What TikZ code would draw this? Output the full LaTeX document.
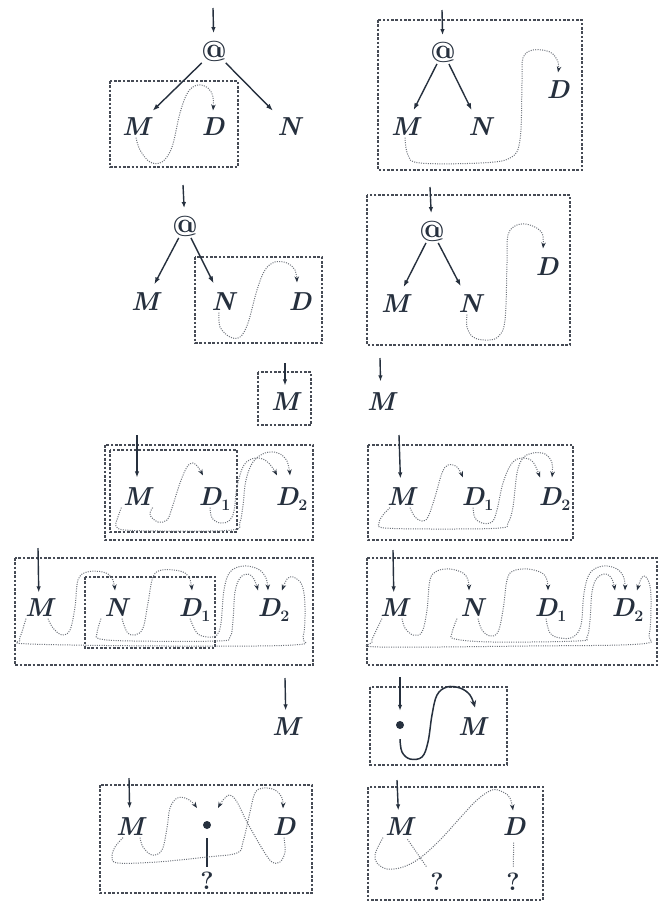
\documentclass[tikz,border=0pt]{standalone}
\usetikzlibrary{arrows.meta}
\definecolor{ink}{RGB}{38,48,62}
\definecolor{boxc}{RGB}{70,75,85}
\definecolor{curvec}{RGB}{110,115,123}
\newcommand\mysub[1]{\smash{\rlap{\raisebox{-5pt}{\fontsize{16}{16}\selectfont\upshape\bfseries #1}}}}
\begin{document}
\begin{tikzpicture}[x=1pt,y=-1pt,
  lbl/.style={inner sep=1.5pt, text=ink, font=\fontsize{26}{30}\selectfont\bfseries\itshape},
  atnode/.style={inner sep=1.5pt, text=ink, font=\fontsize{29}{32}\selectfont\bfseries},
  qnode/.style={inner sep=1.5pt, text=ink, font=\fontsize{25}{28}\selectfont\bfseries},
  entry/.style={draw=ink, line width=1.4pt, -{Latex[length=6pt,width=4.5pt]}},
  treeedge/.style={draw=ink, line width=1.4pt, -{Latex[length=7pt,width=5pt]}},
  dbox/.style={draw=boxc, line width=1.6pt, dash pattern=on 2.6pt off 1.7pt},
  ptr/.style={draw=curvec, line width=1pt, dash pattern=on 1pt off 1.3pt, -{Stealth[length=6pt,width=4.5pt,color=ink]}},
  ptrline/.style={draw=curvec, line width=1pt, dash pattern=on 1pt off 1.3pt},
  solidptr/.style={draw=ink, line width=1.5pt, -{Stealth[length=7pt,width=6pt]}},
  bullet/.style={circle, fill=ink, inner sep=0pt, minimum size=8pt}]
\fill[white] (0,0) rectangle (659,903);
\useasboundingbox (0,0) rectangle (659,903);

% ---------- Panel 1
\node[atnode] (p1at) at (214,51) {@};
\node[lbl] (p1M) at (136,127) {M};
\node[lbl] (p1D) at (213,127) {D};
\node[lbl] (p1N) at (289,127) {N};
\coordinate (p1in) at (213,8);
\draw[dbox] (110,81) rectangle (238,167);
\draw[entry, shorten >=6pt] (p1in) -- (p1at);
\draw[treeedge, shorten >=8pt] (p1at) -- (p1M);
\draw[treeedge, shorten >=8pt] (p1at) -- (p1N);
\draw[ptr] plot[smooth,tension=0.6] coordinates {(p1M.south) (140,150) (150,162) (162,162) (172,147) (180,113) (188,92) (198,85) (208,88) (213,97) ([yshift=6pt]p1D.north)};

% ---------- Panel 2
\node[atnode] (p2at) at (443,52) {@};
\node[lbl] (p2M) at (405,127) {M};
\node[lbl] (p2N) at (480,127) {N};
\node[lbl] (p2D) at (558,90) {D};
\coordinate (p2in) at (442,10);
\draw[dbox] (378,20) rectangle (582,170);
\draw[entry, shorten >=5pt] (p2in) -- (p2at);
\draw[treeedge, shorten >=7pt] (p2at) -- (p2M);
\draw[treeedge, shorten >=7pt] (p2at) -- (p2N);
\draw[ptr] plot[smooth,tension=0.6] coordinates {(p2M.south) (408,155) (420,163) (480,163) (510,158) (520,140) (522,83) (523,58) (533,50) (550,52) (558,62) ([yshift=7pt]p2D.north)};

% ---------- Panel 3
\node[atnode] (p3at) at (185,226) {@};
\node[lbl] (p3M) at (145,302) {M};
\node[lbl] (p3N) at (223,302) {N};
\node[lbl] (p3D) at (300,302) {D};
\coordinate (p3in) at (183,185);
\draw[dbox] (195,257) rectangle (322,343);
\draw[entry, shorten >=6pt] (p3in) -- (p3at);
\draw[treeedge, shorten >=8pt] (p3at) -- (p3M);
\draw[treeedge, shorten >=9pt] (p3at) -- (p3N);
\draw[ptr] plot[smooth,tension=0.6] coordinates {([xshift=-4pt]p3N.south) (220,327) (230,337) (240,337) (248,323) (257,290) (265,270) (275,262) (287,263) (295,270) ([xshift=-3pt,yshift=9pt]p3D.north)};

% ---------- Panel 4
\node[atnode] (p4at) at (432,231) {@};
\node[lbl] (p4M) at (395,304) {M};
\node[lbl] (p4N) at (470,304) {N};
\node[lbl] (p4D) at (547,267) {D};
\coordinate (p4in) at (430,187);
\draw[dbox] (367,195) rectangle (570,345);
\draw[entry, shorten >=6pt] (p4in) -- (p4at);
\draw[treeedge, shorten >=7pt] (p4at) -- (p4M);
\draw[treeedge, shorten >=8pt] (p4at) -- (p4N);
\draw[ptr] plot[smooth,tension=0.6] coordinates {([xshift=-3pt]p4N.south) (467,327) (473,337) (485,340) (498,337) (505,320) (507,263) (508,235) (517,225) (530,225) (542,233) ([xshift=-4pt,yshift=8pt]p4D.north)};

% ---------- Panel 5
\node[lbl] (p5Ma) at (285,402) {M};
\coordinate (p5ina) at (285,363);
\draw[dbox] (258,372) rectangle (311,425);
\draw[entry, shorten >=6pt] (p5ina) -- (p5Ma);
\node[lbl] (p5Mb) at (381,402) {M};
\coordinate (p5inb) at (380,358);
\draw[entry, shorten >=10pt] (p5inb) -- (p5Mb);

% ---------- Panel 6
\node[lbl] (p6M) at (137,497) {M};
\node[lbl] (p6D1) at (210,497) {D\mysub{1}};
\node[lbl] (p6D2) at (287,497) {D\mysub{2}};
\coordinate (p6in) at (137,435);
\draw[dbox] (105,445) rectangle (313,540);
\draw[dbox] (110,450) rectangle (237,532);
\draw[entry, shorten >=9pt] (p6in) -- (p6M);
\draw[ptr] plot[smooth,tension=0.6] coordinates {(p6M.south east) (150,515) (158,522) (167,520) (172,508) (180,483) (187,467) (193,463) (198,467) ([xshift=-7pt,yshift=11pt]p6D1.north)};
\draw[ptr] plot[smooth,tension=0.6] coordinates {(p6D1.south) (212,518) (220,523) (229,521) (234,511) (237,487) (244,465) (255,458) (265,460) (272,467) ([xshift=-10pt,yshift=11pt]p6D2.north)};
\draw[ptr] plot[smooth,tension=0.6] coordinates {(p6M.south west) (118,517) (116,526) (125,530) (167,531) (232,530) (240,522) (243,505) (246,480) (253,462) (265,453) (278,453) (287,461) ([xshift=3pt,yshift=11pt]p6D2.north)};

% ---------- Panel 7
\node[lbl] (p7M) at (401,497) {M};
\node[lbl] (p7D1) at (473,497) {D\mysub{1}};
\node[lbl] (p7D2) at (550,497) {D\mysub{2}};
\coordinate (p7in) at (399,435);
\draw[dbox] (368,445) rectangle (573,540);
\draw[entry, shorten >=8pt] (p7in) -- (p7M);
\draw[ptr] plot[smooth,tension=0.6] coordinates {([xshift=9pt]p7M.south) (415,517) (422,521) (428,517) (435,497) (442,473) (448,465) (457,467) ([xshift=-10pt,yshift=9pt]p7D1.north)};
\draw[ptr] plot[smooth,tension=0.6] coordinates {(p7D1.south) (475,518) (482,523) (492,522) (497,510) (503,483) (512,463) (523,458) (533,462) ([xshift=-10pt,yshift=9pt]p7D2.north)};
\draw[ptr] plot[smooth,tension=0.6] coordinates {([xshift=-11pt]p7M.south) (383,515) (379,523) (385,528) (443,529) (500,528) (508,523) (513,507) (517,473) (523,458) (533,453) (545,454) (552,463) ([xshift=2pt,yshift=9pt]p7D2.north)};

% ---------- Panel 8
\node[lbl] (p8M) at (39,608) {M};
\node[lbl] (p8N) at (116,608) {N};
\node[lbl] (p8D1) at (190,608) {D\mysub{1}};
\node[lbl] (p8D2) at (269,608) {D\mysub{2}};
\coordinate (p8in) at (38,548);
\draw[dbox] (15,558) rectangle (313,665);
\draw[dbox] (85,577) rectangle (215,648);
\draw[entry, shorten >=5pt] (p8in) -- (p8M);
\draw[ptr] plot[smooth,tension=0.6] coordinates {([xshift=9pt]p8M.south) (53,628) (62,635) (70,630) (75,607) (78,580) (87,572) (103,572) (112,578) ([xshift=-1pt,yshift=7pt]p8N.north)};
\draw[ptr] plot[smooth,tension=0.6] coordinates {([xshift=6pt]p8N.south) (127,632) (135,635) (143,628) (148,603) (153,577) (162,570) (180,571) (189,577) ([xshift=2pt,yshift=7pt]p8D1.north)};
\draw[ptr] plot[smooth,tension=0.6] coordinates {(p8D1.south) (197,633) (207,637) (217,635) (221,623) (224,590) (230,572) (243,566) (258,569) (266,578) ([xshift=-1pt,yshift=7pt]p8D2.north)};
\draw[ptr] plot[smooth,tension=0.6] coordinates {([xshift=-13pt]p8M.south) (22,632) (20,640) (30,644) (167,646) (293,645) (303,637) (305,607) (302,585) (293,577) (287,579) ([xshift=13pt,yshift=7pt]p8D2.north)};
\draw[ptr] plot[smooth,tension=0.6] coordinates {([xshift=-15pt]p8N.south) (97,633) (100,639) (133,641) (217,641) (230,637) (233,620) (235,592) (240,578) (248,574) (254,579) ([xshift=-11pt,yshift=7pt]p8D2.north)};

% ---------- Panel 9
\node[lbl] (p9M) at (394,608) {M};
\node[lbl] (p9N) at (472,608) {N};
\node[lbl] (p9D1) at (546,608) {D\mysub{1}};
\node[lbl] (p9D2) at (623,608) {D\mysub{2}};
\coordinate (p9in) at (393,550);
\draw[dbox] (367,558) rectangle (657,665);
\draw[entry, shorten >=5pt] (p9in) -- (p9M);
\draw[ptr] plot[smooth,tension=0.6] coordinates {([xshift=8pt]p9M.south) (405,628) (413,635) (422,632) (427,610) (430,580) (437,571) (450,569) (463,573) (468,580) ([xshift=-3pt,yshift=7pt]p9N.north)};
\draw[ptr] plot[smooth,tension=0.6] coordinates {([xshift=6pt]p9N.south) (482,630) (490,636) (498,632) (503,610) (507,580) (513,571) (528,569) (542,573) (547,580) ([xshift=2pt,yshift=7pt]p9D1.north)};
\draw[ptr] plot[smooth,tension=0.6] coordinates {(p9D1.south) (550,633) (560,638) (573,637) (581,625) (584,593) (590,573) (603,566) (617,569) (624,578) ([xshift=2pt,yshift=7pt]p9D2.north)};
\draw[ptr] plot[smooth,tension=0.6] coordinates {([xshift=-12pt]p9M.south) (375,633) (372,642) (380,647) (527,646) (640,644) (649,635) (651,607) (650,586) (645,576) (641,579) ([xshift=14pt,yshift=7pt]p9D2.north)};
\draw[ptr] plot[smooth,tension=0.6] coordinates {([xshift=-15pt]p9N.south) (452,633) (455,639) (493,642) (577,641) (587,637) (590,620) (592,592) (597,578) (606,574) (612,579) ([xshift=-8pt,yshift=7pt]p9D2.north)};

% ---------- Panel 10
\node[lbl] (p10M) at (286,727) {M};
\coordinate (p10in) at (285,678);
\draw[entry, shorten >=6pt] (p10in) -- (p10M);

% ---------- Panel 11
\node[bullet] (p11b) at (400,725) {};
\node[lbl] (p11M) at (472,727) {M};
\coordinate (p11in) at (400,677);
\draw[dbox] (370,687) rectangle (507,765);
\draw[entry, shorten >=10pt] (p11in) -- (p11b);
\draw[solidptr] plot[smooth,tension=0.6] coordinates {([yshift=-10pt]p11b.south) (402,752) (410,759) (422,757) (428,742) (432,715) (437,695) (447,687) (460,688) (470,695) ([xshift=3pt,yshift=9pt]p11M.north)};

% ---------- Panel 12
\node[lbl] (p12M) at (130,827) {M};
\node[bullet] (p12b) at (207,825) {};
\node[lbl] (p12D) at (284,827) {D};
\node[qnode] (p12q) at (207,881) {?};
\coordinate (p12in) at (129,778);
\draw[dbox] (100,785) rectangle (312,893);
\draw[entry, shorten >=8pt] (p12in) -- (p12M);
\draw[draw=ink, line width=2pt, shorten <=9pt, shorten >=4pt] (p12b) -- (p12q);
\draw[ptr] plot[smooth,tension=0.6] coordinates {([xshift=10pt]p12M.south) (143,847) (152,855) (162,850) (167,828) (170,808) (177,798) (185,798) (192,802) ([xshift=-10pt,yshift=17pt]p12b.center)};
\draw[ptr] plot[smooth,tension=0.6] coordinates {(p12D.south) (285,852) (280,862) (272,862) (263,850) (247,822) (237,802) (230,795) (223,800) ([xshift=11pt,yshift=17pt]p12b.center)};
\draw[ptr] plot[smooth,tension=0.6] coordinates {([xshift=-7pt]p12M.south) (115,847) (112,857) (118,863) (157,862) (207,857) (237,853) (243,842) (250,812) (255,793) (263,788) (275,790) (282,798) ([xshift=-1pt,yshift=8pt]p12D.north)};

% ---------- Panel 13
\node[lbl] (p13M) at (399,827) {M};
\node[lbl] (p13D) at (514,827) {D};
\node[qnode] (p13q1) at (437,882) {?};
\node[qnode] (p13q2) at (513,882) {?};
\coordinate (p13in) at (397,780);
\draw[dbox] (368,787) rectangle (543,900);
\draw[entry, shorten >=6pt] (p13in) -- (p13M);
\draw[ptr] plot[smooth,tension=0.6] coordinates {([xshift=-16pt]p13M.south) (378,847) (375,855) (377,863) (387,869) (403,867) (420,858) (440,840) (460,818) (477,800) (492,790) (503,792) (510,798) ([xshift=-1pt,yshift=6pt]p13D.north)};
\draw[ptrline, shorten <=2pt, shorten >=6pt] (p13M) -- (p13q1);
\draw[ptrline, shorten <=5pt, shorten >=5pt] (p13D) -- (p13q2);
\end{tikzpicture}
\end{document}
